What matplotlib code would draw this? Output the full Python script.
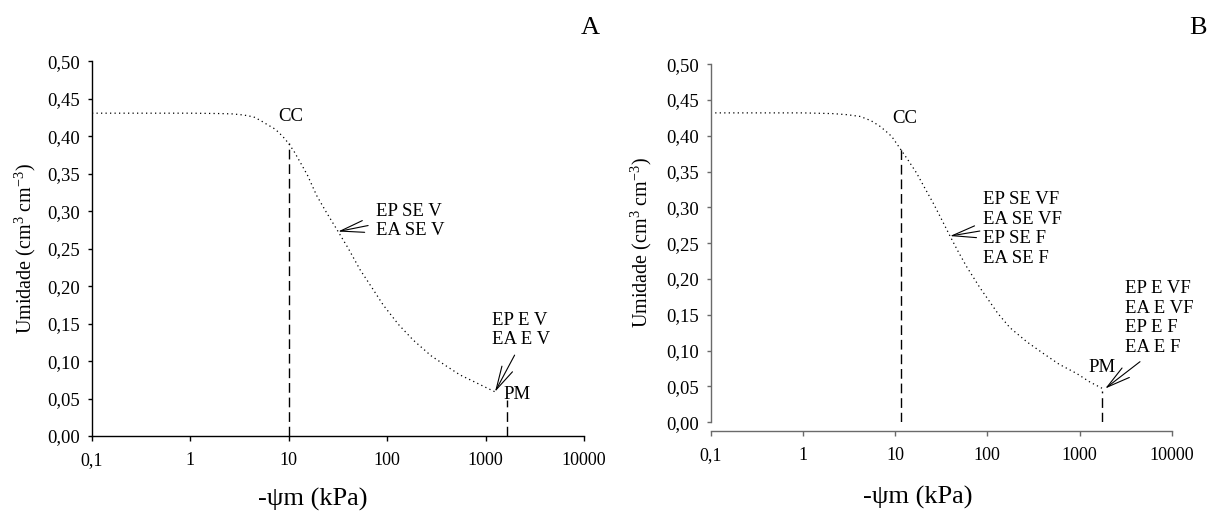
import matplotlib
matplotlib.use("Agg")
import matplotlib.pyplot as plt

plt.rcParams["font.family"] = ["Liberation Serif", "DejaVu Serif"]
plt.rcParams["mathtext.fontset"] = "custom"
plt.rcParams["mathtext.rm"] = "Liberation Serif"
plt.rcParams["mathtext.it"] = "Liberation Serif:italic"

# retention curves: -psi_m (kPa) vs moisture (cm3 cm-3)
psi_a = [0.1, 1, 2.0, 2.7, 3.5, 4.4, 5.2, 6.0, 7.0, 7.8, 8.8, 9.9, 11.3, 13, 15.5,
         19.2, 24, 31.7, 40, 53, 70, 91, 130, 184, 280, 403, 550, 750, 1000, 1246]
theta_a = [0.431, 0.431, 0.4305, 0.430, 0.4285, 0.426, 0.421, 0.416, 0.411, 0.406,
           0.399, 0.391, 0.380, 0.366, 0.348, 0.321, 0.299, 0.273, 0.251, 0.222,
           0.198, 0.175, 0.149, 0.128, 0.107, 0.093, 0.0815, 0.073, 0.065, 0.059]

psi_b = [0.1, 1, 2.1, 3.0, 4.2, 5.5, 6.9, 8.0, 9.2, 11.5, 14, 17.1, 21, 25.9, 32,
         39.4, 48, 59.8, 83, 130, 176, 270, 405, 600, 933, 1300, 1780]
theta_b = [0.432, 0.432, 0.431, 0.4295, 0.427, 0.421, 0.413, 0.406, 0.399, 0.381,
           0.365, 0.348, 0.327, 0.306, 0.283, 0.260, 0.239, 0.217, 0.188, 0.152,
           0.132, 0.112, 0.096, 0.081, 0.068, 0.056, 0.047]

# field capacity (CC) and wilting point (PM) markers
cc_a = (10, 0.391)
pm_a = (1640, 0.048)
cc_b = (11.5, 0.381)
pm_b = (1740, 0.043)

x_ticks = [0.1, 1, 10, 100, 1000, 10000]
x_tick_labels = ["0,1", "1", "10", "100", "1000", "10000"]
y_ticks = [0, 0.05, 0.10, 0.15, 0.20, 0.25, 0.30, 0.35, 0.40, 0.45, 0.50]
y_tick_labels = ["0,00", "0,05", "0,10", "0,15", "0,20", "0,25", "0,30", "0,35",
                 "0,40", "0,45", "0,50"]

labels_a_mid = ["EP SE V", "EA SE V"]
labels_a_end = ["EP E V", "EA E V"]
labels_b_mid = ["EP SE VF", "EA SE VF", "EP SE F", "EA SE F"]
labels_b_end = ["EP E VF", "EA E VF", "EP E F", "EA E F"]

W, H = 1211, 511
fig = plt.figure(figsize=(W / 100, H / 100), dpi=100)

ax_a = fig.add_axes([92 / W, 1 - 436 / H, 492 / W, 374.5 / H])
ax_b = fig.add_axes([710.7 / W, 1 - 422.2 / H, 461 / W, 358 / H])

ARROW = "->,head_length=17,head_width=4.3"


def setup(ax, spine_color, outward):
    ax.set_xscale("log")
    ax.set_xlim(0.1, 10000)
    ax.set_ylim(0, 0.5)
    ax.set_xticks(x_ticks)
    ax.set_xticklabels(x_tick_labels)
    ax.set_yticks(y_ticks)
    ax.set_yticklabels(y_tick_labels)
    ax.minorticks_off()
    for s in ["top", "right"]:
        ax.spines[s].set_visible(False)
    for s in ["left", "bottom"]:
        ax.spines[s].set_color(spine_color)
        ax.spines[s].set_linewidth(1.0)
    ax.spines["bottom"].set_position(("outward", outward))
    ax.tick_params(axis="x", direction="out", length=3.6, width=1.0, color=spine_color,
                   labelsize=13, pad=8)
    ax.tick_params(axis="y", direction="out", length=3.2, width=1.0, color=spine_color,
                   labelsize=13.5, pad=5.5)
    ax.patch.set_visible(False)


def arrow(ax, tip, tail):
    ax.annotate("", xy=tip, xytext=tail,
                arrowprops=dict(arrowstyle=ARROW, mutation_scale=1, lw=0.8,
                                color="black", shrinkA=0, shrinkB=0))


def draw(ax, psi, theta, cc, pm):
    ax.plot(psi, theta, color="black", lw=0.9, linestyle=(0, (1, 2.6)))
    for x, y in (cc, pm):
        ax.plot([x, x], [0, y], color="black", lw=1.0, linestyle=(0, (7, 3.5)))


# panel A
setup(ax_a, "black", 0)
draw(ax_a, psi_a, theta_a, cc_a, pm_a)
ax_a.text(7.8, 0.4265, "CC", ha="left", va="center", fontsize=13.5)
ax_a.text(77, 0.287, "\n".join(labels_a_mid), ha="left", va="center", fontsize=13.5)
arrow(ax_a, (psi_a[17], theta_a[17]), (64, 0.281))
ax_a.text(1153, 0.1417, "\n".join(labels_a_end), ha="left", va="center", fontsize=13.5)
arrow(ax_a, (psi_a[-1], theta_a[-1]), (1972, 0.108))
ax_a.text(1503, 0.056, "PM", ha="left", va="center", fontsize=13.5)

# panel B
setup(ax_b, "#6a6a6a", 6)
draw(ax_b, psi_b, theta_b, cc_b, pm_b)
ax_b.text(9.2, 0.4235, "CC", ha="left", va="center", fontsize=13.5)
ax_b.text(90.5, 0.270, "\n".join(labels_b_mid), ha="left", va="center", fontsize=13.5)
arrow(ax_b, (psi_b[15], theta_b[15]), (83, 0.267))
ax_b.text(3117, 0.1457, "\n".join(labels_b_end), ha="left", va="center", fontsize=13.5)
arrow(ax_b, (1900, 0.047), (4530, 0.0845))
ax_b.text(1239, 0.0757, "PM", ha="left", va="center", fontsize=13.5)

ylab = "Umidade (cm$^3$ cm$^{-3}$)"
fig.text(25 / W, 1 - 249 / H, ylab, rotation=90, ha="center", va="center", fontsize=14.5)
fig.text(641 / W, 1 - 243 / H, ylab, rotation=90, ha="center", va="center", fontsize=14.5)
fig.text(313 / W, 1 - 499 / H, "-\u03c8m (kPa)", ha="center", va="center", fontsize=19)
fig.text(918 / W, 1 - 497 / H, "-\u03c8m (kPa)", ha="center", va="center", fontsize=19)
fig.text(590 / W, 1 - 28 / H, "A", ha="center", va="center", fontsize=19)
fig.text(1198 / W, 1 - 28 / H, "B", ha="center", va="center", fontsize=19)

fig.savefig("out.png", dpi=100)
